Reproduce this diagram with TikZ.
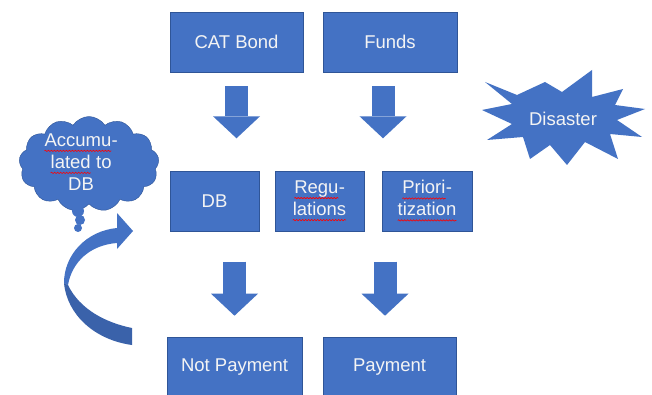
\documentclass[tikz,border=0pt]{standalone}
\usepackage{fontspec}
\setmainfont{Liberation Sans}
\usetikzlibrary{shapes.symbols,arrows.meta,decorations.pathmorphing}
\definecolor{obl}{HTML}{4472C4}
\definecolor{obd}{HTML}{2F5597}
\definecolor{obdk}{HTML}{3A62AA}
\definecolor{txt}{HTML}{F4F4F4}
\newcommand\sq[1]{\tikz[baseline=(w.base)]{\node[inner sep=0pt,outer sep=0pt,minimum width=0pt,minimum height=0pt,draw=none,fill=none,rectangle,anchor=center](w){#1};\draw[red,line width=0.6pt,decorate,decoration={snake,amplitude=0.7pt,segment length=3pt}]([yshift=-4.5pt]w.base west)--([yshift=-4.5pt]w.base east);}}
\tikzset{
  lbl/.style={text=txt,font=\fontsize{18.5}{22}\selectfont,align=center,inner sep=0pt},
  box/.style={lbl,rectangle,fill=obl,draw=obd,line width=0.6pt,minimum height=60pt},
  blockarr/.style={draw=obl,line width=23pt,-{Triangle[width=47pt,length=22pt,line width=0pt,fill=obl]}}
}
\begin{document}
\begin{tikzpicture}[x=1pt,y=-1pt]
\useasboundingbox (0,0) rectangle (652,395);
\fill[white] (0,0) rectangle (652,395);
% top row
\node[box,minimum width=133pt] (cat) at (236.5,42) {CAT Bond};
\node[box,minimum width=134pt] (funds) at (390,42) {Funds};
% middle row
\node[box,minimum width=89pt] (db) at (214.5,201) {DB};
\node[box,minimum width=89pt] (reg) at (319.5,201) {\sq{Regu}-\\\sq{lations}};
\node[box,minimum width=90pt] (pri) at (427,201) {\sq{Priori}-\\\sq{tization}};
% bottom row
\node[box,minimum width=135pt] (notpay) at (234.5,367) {Not Payment};
\node[box,minimum width=133pt] (pay) at (389.5,367) {Payment};
% block arrows
\draw[blockarr] ([yshift=-14pt]cat.south) -- ([yshift=-66pt]cat.south);
\draw[blockarr] ([xshift=-7pt,yshift=-14pt]funds.south) -- ([xshift=-7pt,yshift=-66pt]funds.south);
\draw[blockarr] ([yshift=75pt]notpay.north) -- ([yshift=21pt]notpay.north);
\draw[blockarr] ([xshift=-4.5pt,yshift=75pt]pay.north) -- ([xshift=-4.5pt,yshift=21pt]pay.north);
% disaster starburst
\fill[obl] (485,82) -- (517,95) -- (545,82) -- (562,92) -- (592,70) -- (592,97) -- (623,89) -- (615,105) -- (645,109) -- (617,120) -- (642,137) -- (610,134) -- (618,159) -- (585,142) -- (567,165) -- (550,145) -- (530,159) -- (523,137) -- (487,140) -- (512,124) -- (482,110) -- (512,104) -- cycle;
\node[lbl] (dis) at (563,119) {Disaster};
% thought cloud
\node[cloud,cloud puffs=13,cloud puff arc=115,aspect=1.45,fill=obl,draw=obd,line width=0.4pt,minimum width=140pt,minimum height=95pt] (cloud) at (89,164) {};
\node[lbl] (cloudtxt) at (81,162) {\sq{Accumu}-\\\sq{lated} to\\DB};
\fill[obl] (78,211) circle (6pt);
\fill[obl] (80,220) circle (5pt);
\fill[obl] (78,228) circle (4pt);
% curved arrow
\fill[obl] (68,285) .. controls (72,262) and (90,245) .. (117,243) -- (117,249) -- (133,231) -- (117,213) -- (117,228) .. controls (86,231) and (64,255) .. (64,283) -- cycle;
\fill[obdk] (132,328) .. controls (107,323) and (80,310) .. (68,285) -- (64,283) .. controls (67,315) and (95,340) .. (132,345) -- cycle;
\end{tikzpicture}
\end{document}
